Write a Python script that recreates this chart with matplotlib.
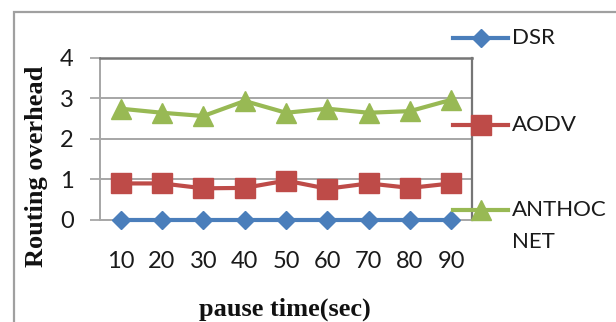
import matplotlib
matplotlib.use("Agg")
import matplotlib.pyplot as plt
from matplotlib.patches import Rectangle
from matplotlib.lines import Line2D

categories = ["10", "20", "30", "40", "50", "60", "70", "80", "90"]
dsr = [0, 0, 0, 0, 0, 0, 0, 0, 0]
aodv = [0.90, 0.90, 0.78, 0.79, 0.97, 0.77, 0.90, 0.79, 0.90]
anthocnet = [2.74, 2.64, 2.56, 2.93, 2.64, 2.74, 2.64, 2.68, 2.96]
y_ticks = [0, 1, 2, 3, 4]

BLUE = "#4A7EBB"
RED = "#BE4B48"
GREEN = "#98B954"

fig = plt.figure(figsize=(6.16, 3.22), dpi=100)
W, H = 616, 322

# outer chart border
fig.patches.append(Rectangle((14 / W, -0.1), 1.2, 1 - 12 / H + 0.1,
                             transform=fig.transFigure, fill=False,
                             edgecolor="#A0A0A0", linewidth=1.6, zorder=0))

ax = fig.add_axes([100 / W, 1 - 220 / H, 372 / W, (220 - 57.5) / H])
x = list(range(len(categories)))

ax.plot(x, dsr, color=BLUE, lw=3, marker="D", ms=9, zorder=3, clip_on=False)
ax.plot(x, aodv, color=RED, lw=3, marker="s", ms=14.5, zorder=3, clip_on=False)
ax.plot(x, anthocnet, color=GREEN, lw=3, marker="^", ms=14, zorder=3, clip_on=False)

ax.set_xlim(-0.5, len(categories) - 0.5)
ax.set_ylim(0, 4)
ax.set_yticks(y_ticks)
ax.set_xticks(x)
ax.set_xticklabels(categories)

for lab in ax.get_yticklabels() + ax.get_xticklabels():
    lab.set_fontfamily("Lato")
    lab.set_fontsize(17)
    lab.set_color("#1a1a1a")

ax.tick_params(axis="y", length=7, width=1.2, color="#A0A0A0", pad=12)
ax.tick_params(axis="x", length=0, pad=22)

for y in y_ticks[1:4]:
    ax.axhline(y, color="#A6A6A6", lw=1.4, zorder=1)

ax.spines["top"].set_color("#767676")
ax.spines["top"].set_linewidth(1.8)
ax.spines["right"].set_color("#767676")
ax.spines["right"].set_linewidth(1.6)
ax.spines["left"].set_color("#A6A6A6")
ax.spines["left"].set_linewidth(1.4)
ax.spines["bottom"].set_color("#A6A6A6")
ax.spines["bottom"].set_linewidth(1.4)

fig.text(36.5 / W, 1 - 166 / H, "Routing overhead", rotation=90,
         ha="center", va="center", family="Liberation Serif",
         weight="bold", size=19, color="#111111")
fig.text(285 / W, 1 - 309 / H, "pause time(sec)", ha="center", va="center",
         family="Liberation Serif", weight="bold", size=19, color="#111111")

# legend drawn manually
leg = [("DSR", BLUE, "D", 9, 38), ("AODV", RED, "s", 14.5, 125),
       ("ANTHOC\nNET", GREEN, "^", 14, 210)]
for name, col, mk, ms, yy in leg:
    fy = 1 - yy / H
    fig.lines.append(Line2D([453 / W, 508 / W], [fy, fy], transform=fig.transFigure,
                            color=col, lw=3, zorder=5))
    fig.lines.append(Line2D([481 / W], [fy], transform=fig.transFigure,
                            color=col, marker=mk, ms=ms, lw=0, zorder=6))
    if "\n" in name:
        a, b = name.split("\n")
        fig.text(512 / W, fy, a, ha="left", va="center", family="Lato",
                 size=16, color="#1a1a1a")
        fig.text(512 / W, 1 - 242 / H, b, ha="left", va="center", family="Lato",
                 size=16, color="#1a1a1a")
    else:
        fig.text(512 / W, fy, name, ha="left", va="center", family="Lato",
                 size=16, color="#1a1a1a")

fig.savefig("out.png", dpi=100)
